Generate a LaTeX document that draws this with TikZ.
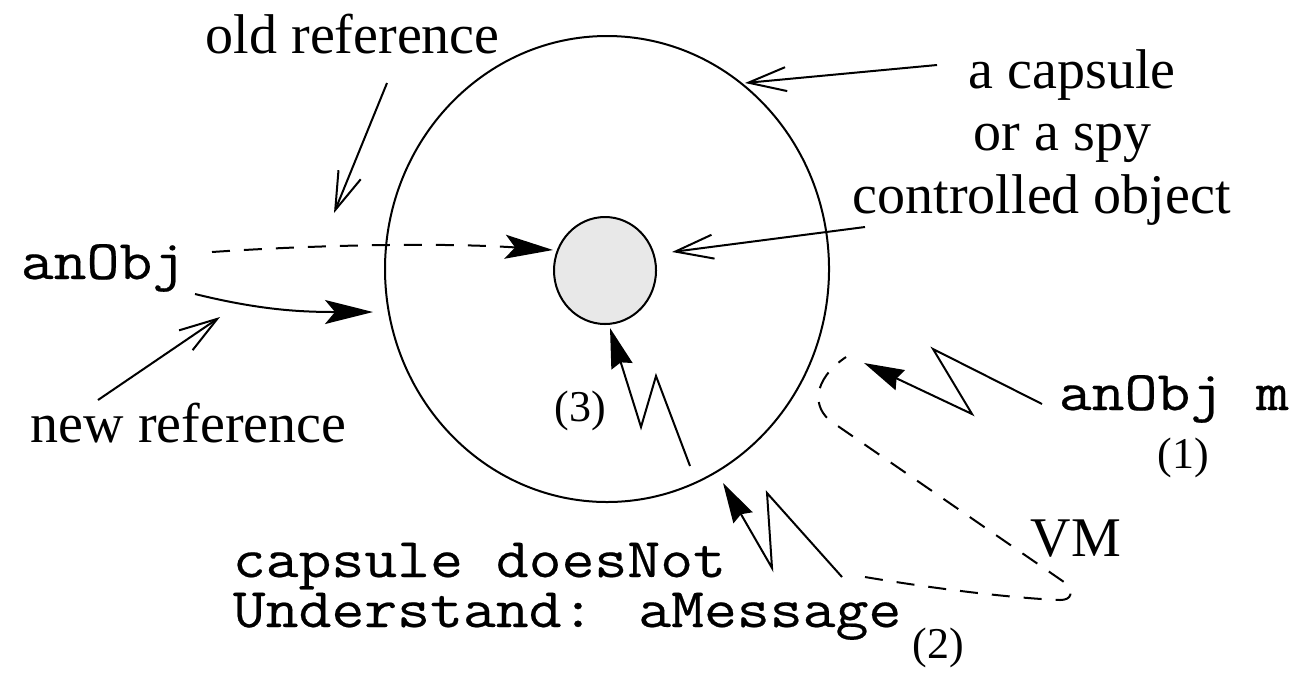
\documentclass[tikz,border=0pt]{standalone}
\usepackage{fontspec}
\setmainfont{Liberation Serif}
\newfontfamily\courfont{Latin Modern Mono}[FakeStretch=1.14,FakeBold=0.4]
\usetikzlibrary{arrows.meta,shapes.geometric}
\tikzset{
  serif/.style={font=\fontsize{14pt}{14pt}\selectfont, inner sep=0pt, anchor=base west},
  numlbl/.style={font=\fontsize{11pt}{11pt}\selectfont, inner sep=0pt, anchor=center},
  mono/.style={font=\fontsize{14pt}{12.5pt}\selectfont\courfont, inner sep=0pt, anchor=base west},
  openarr/.style={line width=0.5pt, -{Straight Barb[length=9.5pt,width=6pt]}},
  fillarr/.style={line width=0.5pt, -{Stealth[length=12pt,width=6pt,inset=2.5pt]}},
  zigarr/.style={line width=0.5pt, miter limit=20, -{Stealth[length=10pt,width=5.5pt,inset=1pt]}},
  dashline/.style={line width=0.5pt, dash pattern=on 4.5pt off 3.5pt}
}
\begin{document}
\begin{tikzpicture}[x=0.25pt,y=-0.25pt]
\useasboundingbox (0,0) rectangle (1301,676);

% circles
\node[ellipse, draw, line width=0.5pt, inner sep=0pt, minimum width=111pt, minimum height=116.5pt] (capsule) at (607,269) {};
\node[ellipse, draw, line width=0.5pt, fill=gray!18, inner sep=0pt, minimum width=25.5pt, minimum height=26.75pt] (obj) at (605,270.5) {};

% texts
\node[serif] (oldref) at (205,53) {old reference};
\node[serif] (newref) at (30,442) {new reference};
\node[mono] (anobj) at (20,279) {anObj};
\node[serif] (capA) at (968,88) {a capsule};
\node[serif] (capB) at (973,150) {or a spy};
\node[serif] (capC) at (852,213) {controlled object};
\node[mono] (msg) at (1058,410) {anObj m};
\node[numlbl] (n1) at (1183,458) {(1)};
\node[mono, align=left] (dnu) at (232,627) {capsule doesNot\\Understand: aMessage};
\node[numlbl] (n2) at (938,648) {(2)};
\node[numlbl] (n3) at (580,411) {(3)};
\node[serif] (vm) at (1030,556) {VM};

% connector end points
\coordinate (oldS) at (387,83);
\coordinate (oldE) at (334,213);
\coordinate (capS) at (937,65);
\coordinate (capE) at (745,83);
\coordinate (ctlS) at (865,227);
\coordinate (ctlE) at (672,252);
\coordinate (newS) at (98,400);
\coordinate (newE) at (220,317);
\coordinate (dashS) at (212,252);
\coordinate (dashE) at (553,250);
\coordinate (solS) at (195,294);
\coordinate (solE) at (373,312);
\coordinate (z3S) at (690,466);
\coordinate (z3E) at (610,328);
\coordinate (z2S) at (842,577);
\coordinate (z2E) at (723,483);
\coordinate (z1S) at (1042,404);
\coordinate (z1E) at (864,363);
\coordinate (vmS) at (865,577);
\coordinate (vmE) at (846,357);

% label arrows
\draw[openarr] (oldS) -- (oldE);
\draw[openarr] (capS) -- (capE);
\draw[openarr] (ctlS) -- (ctlE);
\draw[openarr] (newS) -- (newE);

% references
\draw[fillarr, dash pattern=on 4.5pt off 3.5pt] (dashS) .. controls (330,244) and (450,243) .. (dashE);
\draw[fillarr] (solS) .. controls (260,310) and (300,312) .. (solE);

% zigzag messages
\draw[zigarr] (z3S) -- (656,376) -- (641,427) -- (z3E);
\draw[zigarr] (z2S) -- (767,493) -- (772,568) -- (z2E);
\draw[zigarr] (z1S) -- (933,349) -- (972,414) -- (z1E);

% VM boundary
\draw[dashline] (vmS) .. controls (930,588) and (1010,598) .. (1060,600)
  .. controls (1072,600) and (1074,592) .. (1064,582) -- (832,422)
  .. controls (812,408) and (812,380) .. (vmE);
\end{tikzpicture}
\end{document}
